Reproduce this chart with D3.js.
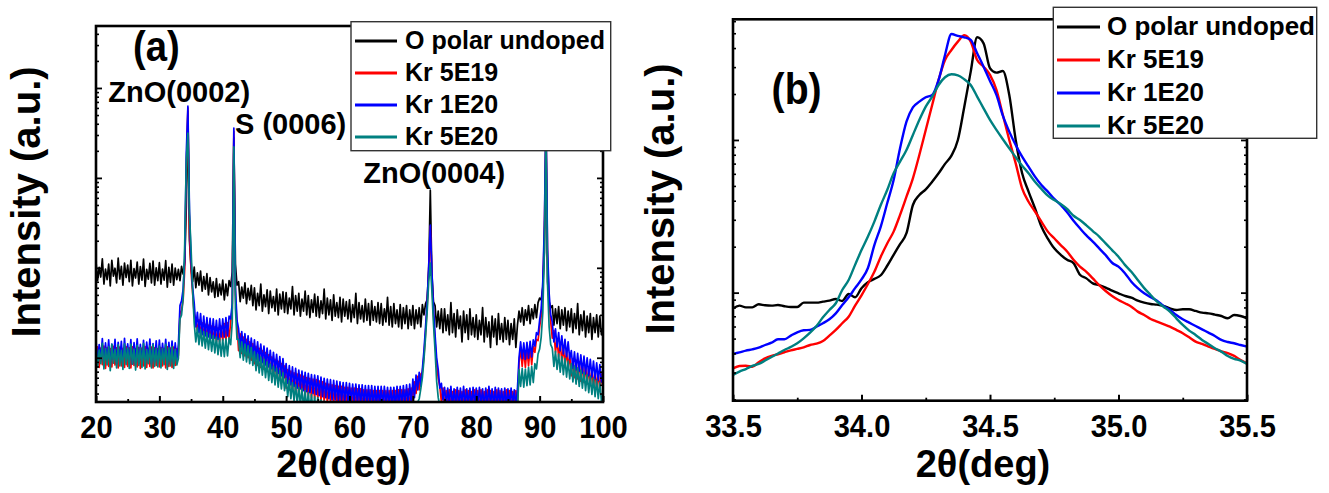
<!DOCTYPE html>
<html>
<head>
<meta charset="utf-8">
<script src="https://cdn.jsdelivr.net/npm/d3@7"></script>
<style>
  html, body { margin: 0; padding: 0; background: #fff; }
  svg { display: block; }
</style>
</head>
<body>
<svg id="chart" width="1329" height="493"></svg>
<script>
// ---------------------------------------------------------------
// XRD 2θ scans: O-polar undoped ZnO and Kr-implanted samples
// ---------------------------------------------------------------
const seriesNames  = ["O polar undoped", "Kr 5E19", "Kr 1E20", "Kr 5E20"];
const seriesColors = ["#000000", "#ff0000", "#0000ff", "#008080"];

// Panel (a): wide scan, 20°–100°, 0.25° step (intensity, a.u.)
const scanA = { start: 20, step: 0.25 };
const undopedA = [
  118,72,101,79,126,66,97,74,110,63,121,81,99,68,128,75,104,64,113,78,
  107,70,121,63,98,77,116,66,103,73,125,62,96,75,112,68,119,64,100,72,
  114,66,97,73,120,61,101,69,110,64,99,74,96,72,104,85,115,480,5500,200,
  100,70,102,60,88,64,92,55,80,58,86,50,78,54,70,47,76,48,66,50,
  73,44,66,49,72,62,90,2800,110,64,70,42,61,46,68,40,59,44,64,38,
  60,34,52,38,66,33,50,37,57,31,55,36,48,33,58,30,51,35,54,32,
  53,31,46,35,62,30,49,33,52,29,45,33,55,30,49,28,44,32,51,29,
  48,28,43,31,58,27,46,30,44,26,50,29,41,28,47,25,45,29,42,27,
  44,25,39,28,52,24,41,27,38,25,45,26,40,23,43,26,37,25,41,24,
  40,23,35,25,47,23,37,22,40,24,34,22,39,21,36,24,38,21,34,23,
  38,21,34,24,36,22,39,30,40,44,95,730,85,42,38,22,33,21,35,19,
  35,20,30,18,41,19,31,17,34,21,29,15,33,19,30,16,35,18,28,17,
  30,16,26,18,36,15,28,17,25,13,29,17,27,14,31,16,24,15,28,16,
  26,14,24,16,27,13,23,33,25,36,23,34,26,38,24,35,27,39,28,41,
  46,44,60,150,2600,70,42,36,38,23,35,24,37,21,34,23,36,20,33,22,
  35,19,31,21,40,18,30,20,33,17,29,19,31,16,28,19,30,17,29,18,
  22
];
const kr5e19A = [
  8.2,13.2,7.8,12.8,8.4,13.5,7.6,13,8,12.6,7.9,13.4,8.3,12.9,7.7,13.1,8.1,12.7,7.8,13.3,
  8,12.9,7.7,13.2,8.2,12.6,7.9,13,7.6,12.8,8.1,13.3,7.8,12.7,8,13.1,7.7,12.9,8.2,12.6,
  7.9,13,8.1,12.7,7.7,13.2,8,12.8,7.8,13.1,8.2,12.6,10.6,31,34,44,97,1170,6000,240,
  92,52,30,26,20,26.5,18,24.5,17.5,23.5,16.5,23,16,22.5,15.5,22,15,21.5,15,22.5,
  15.5,24,15.5,24.5,16,25,35,3300,50,23,12,18.5,11.2,17,10.5,16,10,15,9.4,14.4,
  8.6,13.4,8.2,12.7,7.8,12.0,7.4,11.4,7.0,10.8,6.7,10.2,6.3,9.6,6.0,9.1,5.7,8.6,5.4,8.1,
  4.6,7.4,4.4,7.1,4.3,6.8,4.1,6.6,4.0,6.4,3.9,6.2,3.8,6.0,3.7,5.9,3.6,5.8,3.5,5.7,
  3.5,5.5,3.4,5.4,3.3,5.2,3.2,5.1,3.2,5.0,3.1,4.9,3.0,4.8,3.0,4.8,2.9,4.7,2.9,4.7,
  2.9,4.6,2.8,4.6,2.8,4.5,2.8,4.5,2.7,4.4,2.7,4.4,2.7,4.4,2.7,4.3,2.6,4.3,2.6,4.3,
  2.6,4.3,2.6,4.3,2.6,4.3,2.6,4.3,2.6,4.3,2.6,4.4,2.6,4.4,2.7,4.4,2.7,4.5,2.7,4.6,
  3.3,5.4,4,6.2,4.4,6.6,6.9,10.5,19,37,95,290,80,30,15,8.5,5.9,4.8,3.2,4.6,
  2.7,4.3,2.6,4.4,2.7,4.2,2.6,4.4,2.7,4.3,2.6,4.2,2.7,4.4,2.6,4.3,2.7,4.2,2.6,4.4,
  2.7,4.3,2.6,4.4,2.7,4.2,2.6,4.4,2.7,4.3,2.6,4.2,2.7,4.4,2.6,4.3,2.7,4.2,2.6,4.4,
  2.7,4.3,2.6,4.2,2.7,4.3,2.6,8.8,12.8,8,12.4,7.8,12.6,8.1,13,8.4,13.4,11.5,16,15.5,
  22,29,58,250,4500,130,42,25,16.5,20,11.5,16,10.2,14.4,9.2,13,8.4,11.9,7.7,11,
  6.3,9.8,6,9.4,5.8,9,5.5,8.6,5.3,8.2,5.1,7.9,4.9,7.6,4.7,7.2,4.5,6.9,4.3,6.6,
  4.7
];
const kr1e20A = [
  15.5,8.8,14,9.5,16.3,8.4,14.6,9.1,15.8,8.2,14.2,9.6,16,8.6,14.8,9.3,15.2,8.5,16.4,9,
  14.3,9.2,15.9,8.5,14.7,9.4,16.2,8.7,14.1,9,15.6,8.3,14.9,9.5,16.1,8.6,14.4,9.1,15.4,8.8,
  15.7,8.6,14.5,9.3,16,8.4,14.8,9.1,15.3,8.7,14.6,9.4,14,38,43,58,125,1900,6270,420,
  120,60,40,22,32,19,31,18,29,17.5,28,17,27.5,16.5,27,16.5,26,16,27,17,
  27,17,28,17.5,29,27,40,3590,60,26,21,13,19.5,12,18.5,11.2,17.5,10.5,16.5,10,
  15.8,9.6,15,9.2,14.2,8.8,13.5,8.3,12.8,7.9,12.1,7.5,11.5,7.1,10.9,6.7,10.3,6.3,9.8,6.0,
  8.6,5.2,8.2,5.0,7.9,4.8,7.6,4.6,7.3,4.5,7.1,4.3,6.9,4.2,6.7,4.1,6.5,4.0,6.4,3.9,
  6.3,3.8,6.1,3.7,5.9,3.6,5.8,3.5,5.7,3.4,5.6,3.4,5.5,3.3,5.4,3.3,5.3,3.2,5.3,3.2,
  5.2,3.2,5.1,3.1,5.1,3.1,5.0,3.0,5.0,3.0,4.9,3.0,4.9,2.9,4.9,2.9,4.8,2.9,4.8,2.9,
  4.8,2.9,4.8,2.9,4.7,2.9,4.7,2.8,4.7,2.8,4.8,2.9,4.8,2.9,4.9,3.0,5.0,3.0,5.1,3.1,
  5.8,3.6,6.4,4.4,6.9,4.8,7.5,12,22,42,105,298,92,36,18,10,7.4,4.6,5.2,3.4,
  4.7,2.9,4.6,3.0,4.8,2.9,4.5,3.0,4.7,2.8,4.6,3.0,4.8,2.9,4.5,3.0,4.6,2.8,4.7,3.0,
  4.6,2.9,4.7,3.0,4.5,2.8,4.6,2.9,4.8,3.0,4.5,2.9,4.7,2.8,4.6,3.0,4.5,2.9,4.6,2.8,
  4.5,2.9,4.6,3.0,4.4,2.9,4.5,10,15,9.8,14.6,9.6,14.8,9.9,15.2,10.2,15.8,13.5,19,18,
  26,35,70,300,5000,160,52,30,25,15,21,13.2,19,12,17.5,11,16,10.3,15,9.7,
  12,7.6,11.6,7.3,11.2,7.1,10.8,6.8,10.4,6.6,10,6.3,9.6,6.1,9.2,5.8,8.8,5.6,8.4,5.4,
  6.4
];
const kr5e20A = [
  13.8,7.9,12.2,8.6,14.5,7.5,12.6,8.3,13.3,7.2,14.1,8.7,12.4,7.7,13.9,8.1,12.1,7.4,14.3,8.4,
  12.8,7.6,14.2,8.5,12.5,7.3,13.7,8.2,12.9,7.8,14.4,7.5,12.3,8.6,13.6,7.7,14,8,12.7,7.9,
  13.5,7.7,12.6,8.4,14.1,7.4,12.9,8.1,13.3,7.6,12.4,8.3,9.8,27,30,46,185,1600,3140,400,
  165,55,24,15,21.5,14,20.5,13.5,19.5,12.8,19,12.3,18.3,11.8,17.6,11.3,17,10.8,16.4,10.4,
  16,10.3,16.2,10.5,16.6,14,25,2210,35,16,16,10,15,9.4,14.2,9,13.6,8.6,13,8.2,
  11.6,7.2,10.9,6.8,10.2,6.4,9.6,6.0,9.0,5.6,8.5,5.3,8.0,5.0,7.6,4.7,7.2,4.5,6.8,4.3,
  5.9,3.7,5.6,3.5,5.3,3.3,5.0,3.1,4.7,3.0,4.5,2.8,4.3,2.7,4.1,2.6,3.9,2.5,3.7,2.4,
  3.6,2.3,3.4,2.2,3.3,2.2,3.2,2.1,3.1,2.1,3.0,2.0,2.9,2.0,2.8,2.0,2.8,2.0,2.7,2.0,
  2.7,2.0,2.7,2.0,2.6,2.0,2.6,2.0,2.6,2.0,2.6,2.0,2.5,2.0,2.5,2.0,2.5,2.0,2.5,2.0,
  2.5,2.0,2.5,2.0,2.5,2.0,2.4,2.0,2.4,2.0,2.4,2.0,2.4,2.0,2.4,2.0,2.4,2.0,2.4,2.0,
  2.4,2.6,3.1,3.2,3.5,4.5,6,9.5,17,32,70,113,55,24,12,5.5,3.6,2.9,2.5,2.2,
  2.4,2.0,2.4,2.0,2.4,2.0,2.4,2.0,2.4,2.0,2.4,2.0,2.4,2.0,2.4,2.0,2.4,2.0,2.4,2.0,
  2.4,2.0,2.4,2.0,2.4,2.0,2.4,2.0,2.4,2.0,2.4,2.0,2.4,2.0,2.4,2.0,2.4,2.0,2.4,2.0,
  2.4,2.0,2.4,2.0,2.4,2.0,2.4,7.4,4.8,7.6,4.7,7.5,4.9,7.8,5,8,5.3,8.6,7.5,11,
  12.5,17,32,150,3500,65,22,14,12.8,8,11.8,7.4,11,6.9,10.3,6.5,9.8,6.1,9.2,5.8,
  8.6,5.4,8.1,5.1,7.7,4.8,7.3,4.6,6.9,4.3,6.5,4.1,6.2,3.9,5.9,3.7,5.6,3.5,5.3,3.3,
  3.9
];

// Panel (b): ZnO(0002) region, 33.5°–35.5°, 0.025° step
const scanB = { start: 33.5, step: 0.025 };
const undopedB = [
  78.9,82.2,80.1,80.1,83.9,82.6,82.2,83.0,81.4,80.5,
  80.5,86.0,86.0,86.0,87.3,88.6,90.9,88.2,98.0,93.2,
  107,117,123,130,150,177,208,245,375,436,
  475,533,605,697,789,1000,1652,2804,4704,4295,
  2947,2761,2831,1972,1000,605,459,357,271,226,
  195,177,164,156,131,124,115,112,108,103,
  99.0,95.1,92.7,88.6,86.0,84.3,83.4,81.8,78.9,77.0,
  77.8,77.8,75.9,74.0,73.2,71.8,70.3,67.9,71.4,70.3,
  67.9
];
const kr5e19B = [
  31.9,33.1,33.2,32.7,35.0,37.1,38.5,39.5,40.7,41.9,
  42.8,43.8,45.4,46.3,48.2,52.3,57.0,63.0,69.6,82.2,
  96.1,114,137,172,210,251,323,425,561,797,
  1163,1695,2472,3342,3886,4406,4848,4406,3342,3020,
  2666,2126,1458,1000,703,482,394,340,292,251,
  227,205,186,164,148,137,124,112,102.5,95.1,
  89.5,85.2,80.9,75.1,71.4,67.2,64.6,62.3,59.9,57.0,
  54.2,51.0,47.8,46.1,44.3,42.8,41.3,40.1,38.5,36.2,
  34.4
];
const kr1e20B = [
  39.7,40.6,41.7,42.5,43.6,45.4,47.0,49.5,49.5,52.3,
  55.0,56.7,57.0,59.9,63.0,66.9,73.2,83.0,93.2,107,
  122,145,205,271,385,547,882,1318,1636,1782,
  1904,1972,2472,3604,4946,4800,4704,4519,3696,3020,
  2435,1972,1443,1134,927,778,669,575,507,459,
  411,375,336,296,264,237,216,195,176,157,
  148,134,118,107,99.0,93.2,88.6,81.8,77.0,71.4,
  66.9,63.6,60.5,57.5,54.7,52.0,49.0,47.5,46.6,45.4,
  44.3
];
const kr5e20B = [
  28.9,30.4,31.6,33.1,34.1,35.9,37.9,39.9,42.1,44.1,
  46.6,50.2,54.7,60.5,68.9,77.0,85.2,104,121,152,
  190,233,292,375,470,605,721,860,1079,1352,
  1653,1923,2291,2574,2692,2652,2497,2291,1923,1612,
  1352,1163,1010,882,770,679,605,533,478,432,
  404,381,353,319,299,276,253,233,210,190,
  172,152,137,121,107,96.5,87.3,80.9,75.1,67.9,
  61.4,56.4,52.8,49.0,46.1,43.2,41.1,38.5,36.8,35.9,
  34.1
];

// Axis ranges and tick values
const xDomainA = [20, 100];
const xTicksA  = [20, 30, 40, 50, 60, 70, 80, 90, 100];
const xMinorA  = [25, 35, 45, 55, 65, 75, 85, 95];
const yDomainA = [3.22, 48900];
const xDomainB = [33.5, 35.5];
const xTicksB  = [33.5, 34.0, 34.5, 35.0, 35.5];
const xMinorB  = [33.75, 34.25, 34.75, 35.25];
const yDomainB = [19.6, 6170];

// Reflection labels in panel (a), anchored in data coordinates
const peakLabelsA = [
  { text: "ZnO(0002)", theta: 21.94, counts: 6900 },
  { text: "S (0006)",  theta: 41.93, counts: 3080 },
  { text: "ZnO(0004)", theta: 62.18, counts: 873 }
];

// ---------------------------------------------------------------
const FONT = "'Liberation Sans', Arial, Helvetica, sans-serif";
const svg = d3.select("#chart");
const defs = svg.append("defs");

const boxA = { left: 96, right: 603, top: 26, bottom: 402 };
const boxB = { left: 733, right: 1247, top: 19.3, bottom: 400.7 };

const xA = d3.scaleLinear().domain(xDomainA).range([boxA.left, boxA.right]);
const yA = d3.scaleLog().domain(yDomainA).range([boxA.bottom, boxA.top]);
const xB = d3.scaleLinear().domain(xDomainB).range([boxB.left, boxB.right]);
const yB = d3.scaleLog().domain(yDomainB).range([boxB.bottom, boxB.top]);

function logTicks(scale) {
  const [lo, hi] = scale.domain();
  const major = [], minor = [];
  for (let e = Math.floor(Math.log10(lo)); e <= Math.ceil(Math.log10(hi)); e++) {
    for (let k = 1; k < 10; k++) {
      const v = k * Math.pow(10, e);
      if (v < lo || v > hi) continue;
      (k === 1 ? major : minor).push(v);
    }
  }
  return { major, minor };
}

function styleAxis(g, width) {
  g.select(".domain").remove();
  g.selectAll("line").attr("stroke", "#000").attr("stroke-width", width);
}

function drawPanel(id, box, x, y, scan, series, lineWidth, xTicks, xMinor, xFmt, curve) {
  const clipId = "clip-" + id;
  defs.append("clipPath").attr("id", clipId)
    .append("rect")
    .attr("x", box.left).attr("y", box.top)
    .attr("width", box.right - box.left).attr("height", box.bottom - box.top);

  const g = svg.append("g").attr("class", "panel-" + id);
  const thetas = series[0].map((_, i) => scan.start + i * scan.step);

  const line = d3.line()
    .x((d, i) => x(thetas[i]))
    .y(d => y(d))
    .curve(curve);

  const plot = g.append("g").attr("clip-path", `url(#${clipId})`);
  series.forEach((vals, si) => {
    plot.append("path")
      .datum(vals)
      .attr("d", line)
      .attr("fill", "none")
      .attr("stroke", seriesColors[si])
      .attr("stroke-width", lineWidth)
      .attr("stroke-linejoin", "round");
  });

  // Log-scale ticks, inward on left and right
  const yt = logTicks(y);
  g.append("g").attr("transform", `translate(${box.left},0)`)
    .call(d3.axisLeft(y).tickValues(yt.major).tickSize(-6).tickFormat(""))
    .call(a => styleAxis(a, 1.8));
  g.append("g").attr("transform", `translate(${box.left},0)`)
    .call(d3.axisLeft(y).tickValues(yt.minor).tickSize(-3).tickFormat(""))
    .call(a => styleAxis(a, 1.6));
  g.append("g").attr("transform", `translate(${box.right},0)`)
    .call(d3.axisRight(y).tickValues(yt.major).tickSize(-6).tickFormat(""))
    .call(a => styleAxis(a, 1.8));
  g.append("g").attr("transform", `translate(${box.right},0)`)
    .call(d3.axisRight(y).tickValues(yt.minor).tickSize(-3).tickFormat(""))
    .call(a => styleAxis(a, 1.6));

  // Bottom axis with labels
  const bottom = g.append("g").attr("transform", `translate(0,${box.bottom})`)
    .call(d3.axisBottom(x).tickValues(xTicks).tickSize(-6).tickPadding(13.3).tickFormat(xFmt))
    .call(a => styleAxis(a, 2));
  bottom.attr("font-family", FONT).attr("font-size", 32).attr("font-weight", "bold");
  bottom.selectAll("text").attr("fill", "#000").attr("transform", "scale(0.91,1)");
  g.append("g").attr("transform", `translate(0,${box.bottom})`)
    .call(d3.axisBottom(x).tickValues(xMinor).tickSize(-3).tickFormat(""))
    .call(a => styleAxis(a, 1.8));

  // Frame
  g.append("rect")
    .attr("x", box.left).attr("y", box.top)
    .attr("width", box.right - box.left).attr("height", box.bottom - box.top)
    .attr("fill", "none").attr("stroke", "#000").attr("stroke-width", 2.6);

  return g;
}

function label(g, text, x, y, size, opts = {}) {
  const t = g.append("text")
    .attr("font-family", FONT).attr("font-weight", "bold")
    .attr("font-size", size).attr("fill", "#000")
    .attr("text-anchor", opts.anchor || "start")
    .text(text);
  const sx = opts.scaleX || 1;
  const rot = opts.rotate ? ` rotate(${opts.rotate})` : "";
  t.attr("transform", `translate(${x},${y})${rot} scale(${sx},1)`);
  return t;
}

function legend(g, x0, y0, w, h, lineX0, lineX1, textX, rowY0, rowStep, size, baseOff) {
  const lg = g.append("g");
  lg.append("rect").attr("x", x0).attr("y", y0).attr("width", w).attr("height", h)
    .attr("fill", "#fff").attr("stroke", "#333").attr("stroke-width", 1.4);
  seriesNames.forEach((name, i) => {
    const yy = rowY0 + i * rowStep;
    lg.append("line").attr("x1", lineX0).attr("x2", lineX1).attr("y1", yy).attr("y2", yy)
      .attr("stroke", seriesColors[i]).attr("stroke-width", 3);
    label(lg, name, textX, yy + baseOff, size);
  });
}

// ---------------- Panel (a) ----------------
const gA = drawPanel("a", boxA, xA, yA, scanA,
  [undopedA, kr5e19A, kr1e20A, kr5e20A], 1.7,
  xTicksA, xMinorA, d3.format("d"), d3.curveLinear);

peakLabelsA.forEach(p => label(gA, p.text, xA(p.theta), yA(p.counts), 29));
label(gA, "(a)", 133, 61, 43, { scaleX: 0.89 });
legend(gA, 351, 21.7, 259.7, 129, 355, 397, 405, 41, 32, 25, 8);
label(gA, "2θ(deg)", (boxA.left + boxA.right) / 2 - 6, 477, 38, { anchor: "middle" });
label(gA, "Intensity (a.u.)", 40, (boxA.top + boxA.bottom) / 2 - 12, 40, { anchor: "middle", rotate: -90 });

// ---------------- Panel (b) ----------------
const gB = drawPanel("b", boxB, xB, yB, scanB,
  [undopedB, kr5e19B, kr1e20B, kr5e20B], 2.4,
  xTicksB, xMinorB, d3.format(".1f"), d3.curveMonotoneX);

label(gB, "(b)", 771.6, 104, 44, { scaleX: 0.89 });
legend(gB, 1053.3, 7.3, 263.4, 131, 1057, 1100, 1107, 27, 33, 26, 7.5);
label(gB, "2θ(deg)", (boxB.left + boxB.right) / 2 - 7, 477, 38, { anchor: "middle" });
label(gB, "Intensity (a.u.)", 674, (boxB.top + boxB.bottom) / 2 - 11, 40, { anchor: "middle", rotate: -90 });
</script>
</body>
</html>
